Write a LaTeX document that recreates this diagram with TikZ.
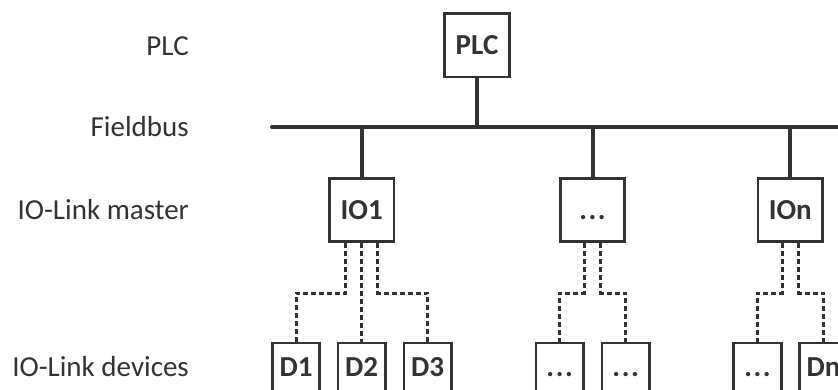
\documentclass[tikz,border=0pt]{standalone}
\usepackage{fontspec}
\setmainfont{Carlito}
\definecolor{ink}{HTML}{333333}
\newcommand{\mydots}{.\hspace{1.6pt}.\hspace{1.6pt}.}
\begin{document}
\begin{tikzpicture}[x=1pt,y=-1pt,
  box/.style={draw=ink, line width=2.6pt, text=ink, font=\fontsize{29}{34}\selectfont\bfseries,
    minimum width=64.5pt, minimum height=63.5pt, inner sep=0pt, text height=18.6pt, text depth=0pt},
  dev/.style={box, minimum width=47.5pt, minimum height=48pt},
  lab/.style={anchor=east, inner sep=0pt, text=ink, font=\fontsize{29}{34}\selectfont},
  bus/.style={draw=ink, line width=4pt},
  link/.style={draw=ink, line width=3pt, dash pattern=on 5pt off 3pt}]
\useasboundingbox (0,0) rectangle (838,390);
\clip (0,0) rectangle (838,390);
% labels
\node[lab] (lplc) at (189,46) {PLC};
\node[lab] (lbus) at (189,127) {Fieldbus};
\node[lab] (lmas) at (189,210) {IO-Link master};
\node[lab] (ldev) at (189,366.5) {IO-Link devices};
% boxes
\node[box] (plc) at (477,45.3) {PLC};
\node[box] (io1) at (361.7,210) {IO1};
\node[box] (iom) at (592.5,210) {\mydots};
\node[box] (ion) at (790.3,210) {IOn};
\node[dev] (d1) at (296,367) {D1};
\node[dev] (d2) at (361.7,367) {D2};
\node[dev] (d3) at (427.7,367) {D3};
\node[dev] (dm1) at (559.7,367) {\mydots};
\node[dev] (dm2) at (625.7,367) {\mydots};
\node[dev] (dn1) at (757.5,367) {\mydots};
\node[dev] (dn2) at (823.5,367) {Dn};
% fieldbus
\coordinate (busL) at (272,127);
\coordinate (busR) at (850,127);
\draw[bus, line cap=round] (busL) -- (busR);
\draw[bus] (plc.south) -- (plc.south |- busL);
\draw[bus] (io1.north |- busL) -- (io1.north);
\draw[bus] (iom.north |- busL) -- (iom.north);
\draw[bus] (ion.north |- busL) -- (ion.north);
% links
\coordinate (hy) at (0,293);
\coordinate (a1) at ([xshift=-16pt]io1.south);
\coordinate (a3) at ([xshift=16pt]io1.south);
\coordinate (b1) at ([xshift=-8.2pt]iom.south);
\coordinate (b2) at ([xshift=8.2pt]iom.south);
\coordinate (c1) at ([xshift=-8.2pt]ion.south);
\coordinate (c2) at ([xshift=8.2pt]ion.south);
\draw[link] (a1) -- (a1 |- hy) -| (d1.north);
\draw[link] (io1.south) -- (d2.north);
\draw[link] (a3) -- (a3 |- hy) -| (d3.north);
\draw[link] (b1) -- (b1 |- hy) -| (dm1.north);
\draw[link] (b2) -- (b2 |- hy) -| (dm2.north);
\draw[link] (c1) -- (c1 |- hy) -| (dn1.north);
\draw[link] (c2) -- (c2 |- hy) -| (dn2.north);
\end{tikzpicture}
\end{document}
